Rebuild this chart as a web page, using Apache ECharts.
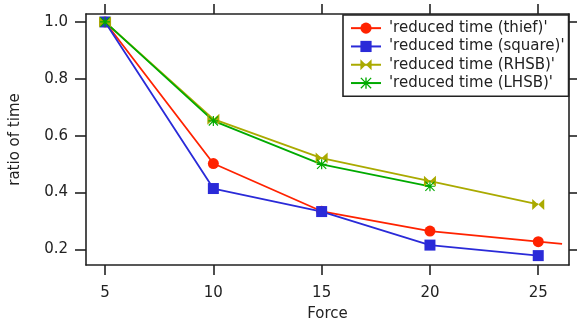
<!DOCTYPE html>
<html>
<head>
<meta charset="utf-8">
<script src="https://cdn.jsdelivr.net/npm/echarts@6/dist/echarts.min.js"></script>
<style>html,body{margin:0;padding:0;background:#fff}#c{width:577px;height:321px}</style>
</head>
<body>
<div id="c"></div>
<script>
const forces = [5, 10, 15, 20, 25];
const thief = [1.0, 0.502, 0.334, 0.2645, 0.227];
const thiefTail = [26.1, 0.219];
const square = [1.0, 0.414, 0.333, 0.215, 0.178];
const rhsb = [1.0, 0.658, 0.521, 0.440, 0.358];
const lhsb = [1.0, 0.652, 0.499, 0.422];
const xTicks = [5, 10, 15, 20, 25];
const yTicks = [0.2, 0.4, 0.6, 0.8, 1.0];
const names = ["'reduced time (thief)'", "'reduced time (square)'", "'reduced time (RHSB)'", "'reduced time (LHSB)'"];

const pair = (xs, ys) => ys.map((v, i) => [xs[i], v]);
const FONT = 'DejaVu Sans';
const axisCol = '#222';
const bowtie = 'path://M0,0 L10,5 L0,10 Z M20,0 L10,5 L20,10 Z';
const star = 'path://M4.4,0 L5.6,0 L5.6,10 L4.4,10 Z M0,4.4 L10,4.4 L10,5.6 L0,5.6 Z M0.8,0 L10,9.2 L9.2,10 L0,0.8 Z M9.2,0 L10,0.8 L0.8,10 L0,9.2 Z';

const xBase = {
  type: 'value', min: 4.12, max: 26.42,
  splitLine: {show: false},
  axisLine: {show: true, onZero: false, lineStyle: {color: axisCol, width: 1.6}},
  axisTick: {show: true, inside: false, length: 10, customValues: xTicks, lineStyle: {color: axisCol, width: 1.6}},
};
const yBase = {
  type: 'value', min: 0.145, max: 1.028,
  splitLine: {show: false},
  axisLine: {show: true, onZero: false, lineStyle: {color: axisCol, width: 1.6}},
  axisTick: {show: true, inside: false, length: 11, customValues: yTicks, lineStyle: {color: axisCol, width: 1.6}},
};

const chart = echarts.init(document.getElementById('c'), null, {renderer: 'canvas'});
chart.setOption({
  animation: false,
  textStyle: {fontFamily: FONT},
  grid: {left: 86, right: 8, top: 14, bottom: 56, containLabel: false, outerBoundsMode: 'none'},
  xAxis: [
    Object.assign({}, xBase, {
      position: 'bottom',
      name: 'Force', nameLocation: 'middle', nameGap: 42,
      nameTextStyle: {fontFamily: FONT, fontSize: 15, color: '#222'},
      axisLabel: {show: true, customValues: xTicks, margin: 21, fontFamily: FONT, fontSize: 15, color: '#222'}
    }),
    Object.assign({}, xBase, {position: 'top', axisLabel: {show: false}})
  ],
  yAxis: [
    Object.assign({}, yBase, {
      position: 'left',
      name: 'ratio of time', nameLocation: 'middle', nameGap: 63,
      nameTextStyle: {fontFamily: FONT, fontSize: 15, color: '#222'},
      axisLabel: {show: true, customValues: yTicks, margin: 18, fontFamily: FONT, fontSize: 15, color: '#222',
        formatter: v => v.toFixed(1)}
    }),
    Object.assign({}, yBase, {position: 'right', axisLabel: {show: false}})
  ],
  legend: {
    show: true, orient: 'vertical', left: 343, top: 15,
    backgroundColor: '#fff', borderColor: '#222', borderWidth: 1.6,
    padding: [4, 4, 4, 7], itemGap: 0, itemWidth: 30, itemHeight: 14,
    textStyle: {fontFamily: FONT, fontSize: 15, color: '#222', lineHeight: 18.3, padding: [0, 0, 0, 3]},
    data: names
  },
  series: [
    {
      name: names[0], type: 'line', data: pair(forces, thief).concat([{value: thiefTail, symbol: 'none'}]),
      symbol: 'circle', symbolSize: 11, showAllSymbol: true,
      lineStyle: {color: '#ff2200', width: 1.8}, itemStyle: {color: '#ff2200'}
    },
    {
      name: names[1], type: 'line', data: pair(forces, square),
      symbol: 'rect', symbolSize: 11, showAllSymbol: true,
      lineStyle: {color: '#2a2ad8', width: 1.8}, itemStyle: {color: '#2a2ad8'}
    },
    {
      name: names[2], type: 'line', data: pair(forces, rhsb),
      symbol: bowtie, symbolSize: [12, 11], showAllSymbol: true,
      lineStyle: {color: '#aaaa00', width: 1.8}, itemStyle: {color: '#aaaa00'}
    },
    {
      name: names[3], type: 'line', data: pair(forces, lhsb),
      symbol: star, symbolSize: 10, showAllSymbol: true,
      lineStyle: {color: '#00aa00', width: 1.8}, itemStyle: {color: '#00aa00'}
    }
  ]
});
</script>
</body>
</html>
